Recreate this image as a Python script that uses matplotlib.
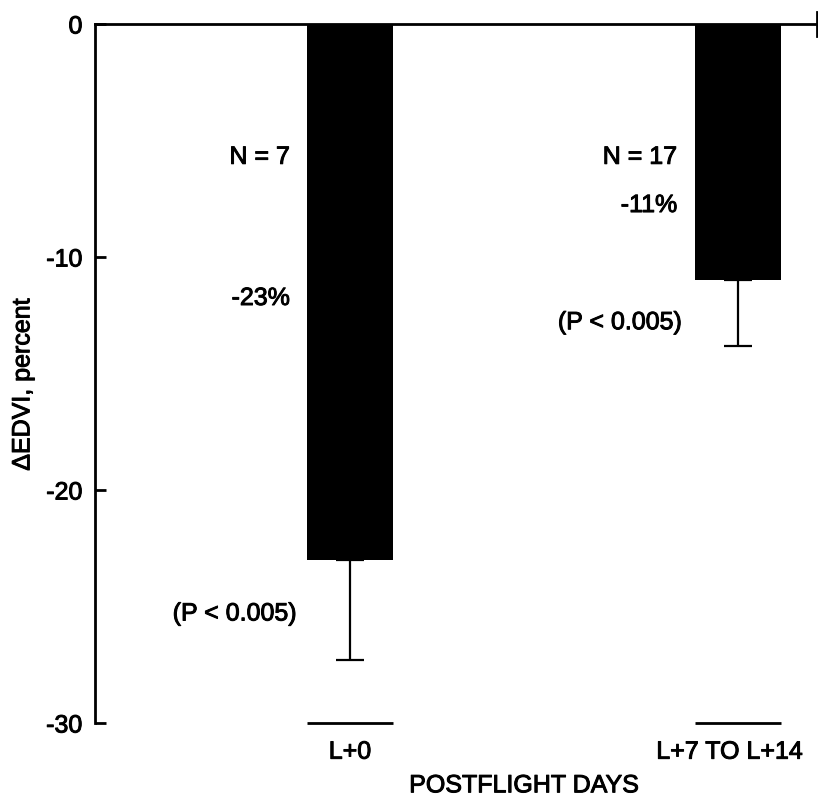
import matplotlib
matplotlib.use("Agg")
import matplotlib.pyplot as plt
import matplotlib.patheffects as pe
import matplotlib.transforms as mtransforms
import numpy as np

categories = ["L+0", "L+7 TO L+14"]
mean_change = [-23, -11]
err_lower = [4.3, 2.8]
n_subjects = [7, 17]
p_text = ["(P < 0.005)", "(P < 0.005)"]
yticks = [0, -10, -20, -30]
ytick_labels = ["0", "-10", "-20", "-30"]

plt.rcParams['font.family'] = ['Liberation Sans', 'DejaVu Sans']
plt.rcParams['font.size'] = 18
heavy = [pe.withStroke(linewidth=0.7, foreground="black")]

fig = plt.figure(figsize=(8.18, 7.98), dpi=100)
ax = fig.add_axes([95/818, 1-723/798, (817-95)/818, (723-24)/798])

x = np.arange(len(categories))
w = 0.222
ax.bar(x, mean_change, width=w, color="black", edgecolor="black", linewidth=0)
ax.errorbar(x, mean_change, yerr=[err_lower, [0]*len(x)], fmt="none",
            ecolor="black", elinewidth=1.6, capsize=10, capthick=1.6)

ax.set_xlim(-0.658, 1.205)
ax.set_ylim(-30, 0)

for s in ["right", "bottom"]:
    ax.spines[s].set_visible(False)
for s in ["left", "top"]:
    ax.spines[s].set_linewidth(2.0)

# short baseline segments under each category
ax.hlines([-30]*len(x), x - w/2, x + w/2, color="black", linewidth=2.0, clip_on=False)
# end tick on the zero line
ax.plot([1, 1], [0.983, 1.017], transform=ax.transAxes, color="black",
        linewidth=2.0, clip_on=False)

ax.set_yticks(yticks)
ax.set_yticklabels(ytick_labels)
ax.tick_params(axis="y", direction="in", length=8, width=2, pad=9, labelsize=18)
ax.set_xticks(x)
ax.set_xticklabels(categories)
ax.tick_params(axis="x", length=0, pad=12, labelsize=18)

# nudge second category label slightly left as in the reference
lbls = ax.get_xticklabels()
lbls[1].set_transform(lbls[1].get_transform() +
                      mtransforms.ScaledTranslation(-8/100, 0, fig.dpi_scale_trans))

ax.set_xlabel("POSTFLIGHT DAYS", fontsize=18)
ax.xaxis.set_label_coords(0.594, -0.072)
ax.set_ylabel("ΔEDVI, percent", fontsize=18)
ax.yaxis.set_label_coords(-0.084, 0.484)

# annotations
n_pos = [(-0.155, -5.7), (0.844, -5.7)]
pct_pos = [(-0.155, -11.76), (0.844, -7.77)]
p_pos = [(-0.137, -25.3), (0.857, -12.8)]
for i in range(len(x)):
    ax.text(*n_pos[i], f"N = {n_subjects[i]}", ha="right", va="center", fontsize=18,
            path_effects=heavy)
    ax.text(*pct_pos[i], f"{mean_change[i]}%", ha="right", va="center", fontsize=18,
            path_effects=heavy)
    ax.text(*p_pos[i], p_text[i], ha="right", va="center", fontsize=18,
            path_effects=heavy)

for t in ax.get_xticklabels() + ax.get_yticklabels() + [ax.xaxis.label, ax.yaxis.label]:
    t.set_path_effects(heavy)

fig.savefig("out.png", dpi=100)
